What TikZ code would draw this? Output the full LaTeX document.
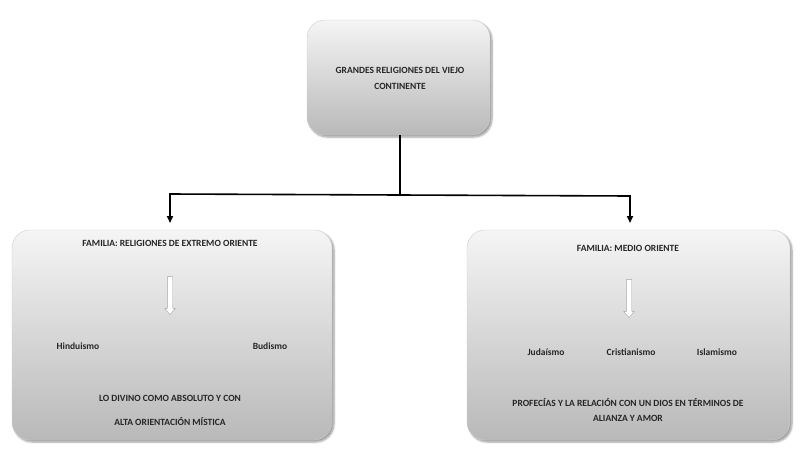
\documentclass[tikz,border=0pt]{standalone}
\usepackage{fontspec}
\setmainfont{Carlito}
\usetikzlibrary{shadows.blur,shapes.arrows,arrows.meta}
\begin{document}
\begin{tikzpicture}[x=1pt,y=-1pt,
  box/.style={draw=gray!40,rounded corners=18pt,top color=gray!8,bottom color=gray!55,blur shadow={shadow xshift=2pt,shadow yshift=-2pt,shadow blur steps=6}},
  txt/.style={font=\bfseries\fontsize{9.5}{11}\selectfont,text=black!85,inner sep=0pt},
  conn/.style={line width=1.6pt,black},
  hollow/.style={single arrow,draw=gray!70,fill=white,minimum height=38pt,single arrow head extend=2.5pt,single arrow tip angle=80,inner sep=2.5pt,shape border rotate=270}]
\useasboundingbox (0,0) rectangle (800,453);
\path[box] (307,20) rectangle (490,135);
\path[box] (12,230) rectangle (332,440);
\path[box] (467,230) rectangle (790,440);
\node[txt,align=center] (top) at (400,78) {GRANDES RELIGIONES DEL VIEJO\\[5pt]CONTINENTE};
\coordinate (tb) at (400,135);
\coordinate (j) at (400,195);
\coordinate (lj) at (170,194);
\coordinate (rj) at (630,196);
\coordinate (la) at (170,223);
\coordinate (ra) at (630,223);
\draw[conn] (tb) -- (j);
\draw[conn,-{Triangle[length=7pt,width=6pt]}] (j) -- (lj) -- (la);
\draw[conn,-{Triangle[length=7pt,width=6pt]}] (j) -- (rj) -- (ra);
\node[txt] (lf) at (170,243) {FAMILIA: RELIGIONES DE EXTREMO ORIENTE};
\node[hollow] (larr) at (170,294) {};
\node[txt] (hin) at (78,346) {Hinduismo};
\node[txt] (bud) at (270,346) {Budismo};
\node[txt,align=center] (ld) at (170,410) {LO DIVINO COMO ABSOLUTO Y CON\\[13pt]ALTA ORIENTACIÓN MÍSTICA};
\node[txt] (rf) at (628,248) {FAMILIA: MEDIO ORIENTE};
\node[hollow] (rarr) at (629,297) {};
\node[txt] (jud) at (546,352) {Judaísmo};
\node[txt] (cri) at (631,352) {Cristianismo};
\node[txt] (isl) at (717,352) {Islamismo};
\node[txt,align=center] (rd) at (628,410) {PROFECÍAS Y LA RELACIÓN CON UN DIOS EN TÉRMINOS DE\\[4pt]ALIANZA Y AMOR};
\end{tikzpicture}
\end{document}
